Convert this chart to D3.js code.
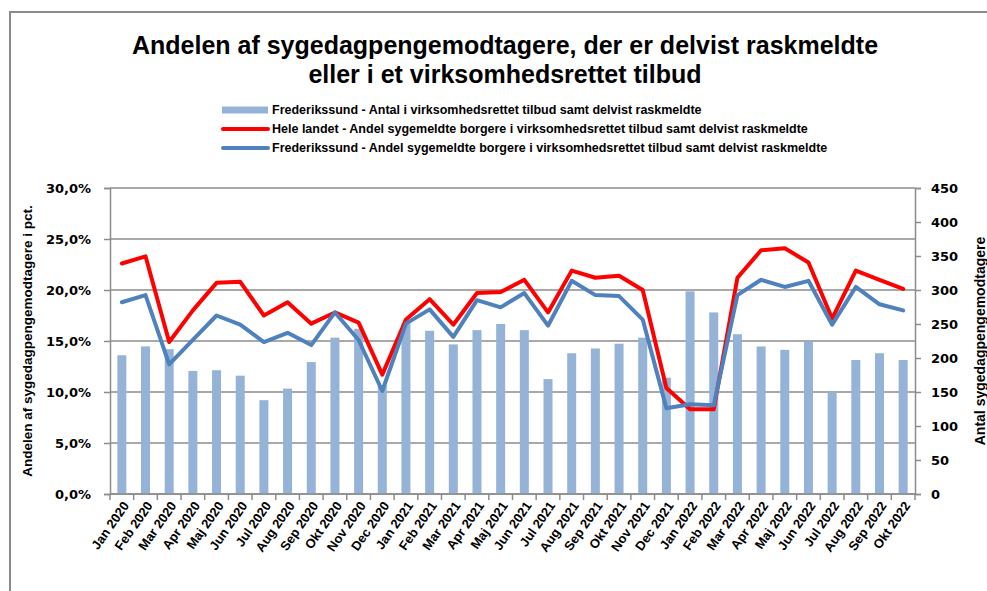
<!DOCTYPE html>
<html>
<head>
<meta charset="utf-8">
<script src="https://cdn.jsdelivr.net/npm/d3@7"></script>
<style>
	body { margin:0; background:#fff; }
	svg { display:block; }
</style>
</head>
<body>
<svg id="chart" width="987" height="591"></svg>
<script>
// months on the x axis
let months = [
	'Jan 2020','Feb 2020','Mar 2020','Apr 2020','Maj 2020','Jun 2020','Jul 2020','Aug 2020','Sep 2020','Okt 2020','Nov 2020','Dec 2020',
	'Jan 2021','Feb 2021','Mar 2021','Apr 2021','Maj 2021','Jun 2021','Jul 2021','Aug 2021','Sep 2021','Okt 2021','Nov 2021','Dec 2021',
	'Jan 2022','Feb 2022','Mar 2022','Apr 2022','Maj 2022','Jun 2022','Jul 2022','Aug 2022','Sep 2022','Okt 2022'
]

// Frederikssund - antal (right axis)
let antal = [
	204,217,213,181,182,174,138,155,194,230,243,160,
	251,240,220,241,250,241,169,207,214,221,230,171,
	298,267,235,217,212,224,151,197,207,197
]

// Hele landet - andel (left axis, pct)
let hele_landet = [
	22.6,23.3,14.9,18.0,20.7,20.8,17.5,18.8,16.7,17.8,16.8,11.7,
	17.1,19.1,16.6,19.7,19.8,21.0,17.8,21.9,21.2,21.4,20.0,10.4,
	8.3,8.3,21.2,23.9,24.1,22.7,17.2,21.9,21.0,20.1
]

// Frederikssund - andel (left axis, pct)
let fred_andel = [
	18.8,19.5,12.7,15.1,17.5,16.6,14.9,15.8,14.6,17.8,15.1,10.1,
	16.7,18.1,15.4,19.0,18.3,19.7,16.5,20.9,19.5,19.4,17.1,8.4,
	8.8,8.7,19.5,21.0,20.3,20.9,16.6,20.3,18.6,18.0
]

let left_ticks = [0,5,10,15,20,25,30]
let right_ticks = [0,50,100,150,200,250,300,350,400,450]

let legend_labels = [
	'Frederikssund -  Antal i virksomhedsrettet tilbud samt delvist raskmeldte',
	'Hele landet - Andel sygemeldte borgere i virksomhedsrettet tilbud samt delvist raskmeldte',
	'Frederikssund -  Andel sygemeldte borgere i virksomhedsrettet tilbud samt delvist raskmeldte'
]

const c_bar = '#95b3d7'
const c_red = '#ff0000'
const c_blue = '#4f81bd'
const c_grid = '#8c8c8c'

const plot = {left:110, right:915, top:188, bottom:494}

const svg = d3.select('#chart')

// outer frame (only top and left edge visible)
svg.append('path')
	.attr('d', 'M10,591 L10,12 L987,12')
	.attr('fill','none')
	.attr('stroke','#8a8a8a')
	.attr('stroke-width',2)

const x = d3.scaleBand()
	.domain(months)
	.range([plot.left, plot.right])
	.padding(0)

const yL = d3.scaleLinear().domain([0,30]).range([plot.bottom, plot.top])
const yR = d3.scaleLinear().domain([0,450]).range([plot.bottom, plot.top])

// title
const title = svg.append('text')
	.attr('text-anchor','middle')
	.attr('font-family','Liberation Sans, Arial, sans-serif')
	.attr('font-weight','bold')
	.attr('font-size',25)
	.attr('fill','#000')
title.append('tspan').attr('x',505).attr('y',54).text('Andelen af sygedagpengemodtagere, der er delvist raskmeldte')
title.append('tspan').attr('x',505).attr('y',83).text('eller i et virksomhedsrettet tilbud')

// legend
const legend = svg.selectAll('.legend')
	.data(legend_labels)
	.enter()
	.append('g')
	.classed('legend',true)
	.attr('transform',(d,i)=>`translate(222,${110 + i*19})`)

legend.each(function(d,i){
	const g = d3.select(this)
	if(i==0){
		g.append('rect').attr('x',0).attr('y',-3.5).attr('width',46).attr('height',7).attr('fill',c_bar)
	}else{
		g.append('line').attr('x1',1).attr('x2',46).attr('y1',0).attr('y2',0)
			.attr('stroke', i==1 ? c_red : c_blue).attr('stroke-width',4).attr('stroke-linecap','round')
	}
})
legend.append('text')
	.attr('x',50)
	.attr('y',0)
	.attr('dy','0.35em')
	.attr('font-family','Liberation Sans, Arial, sans-serif')
	.attr('font-weight','bold')
	.attr('font-size',12.5)
	.attr('fill','#000')
	.text(d=>d)

// gridlines
svg.append('g')
	.selectAll('line')
	.data(left_ticks)
	.enter()
	.append('line')
	.attr('x1',plot.left).attr('x2',plot.right)
	.attr('y1',d=>yL(d)).attr('y2',d=>yL(d))
	.attr('stroke',c_grid)
	.attr('stroke-width',1.5)

// bars
svg.append('g')
	.selectAll('rect')
	.data(antal)
	.enter()
	.append('rect')
	.attr('x',(d,i)=>x(months[i]) + x.bandwidth()/2 - 4.5)
	.attr('width',9)
	.attr('y',d=>yR(d))
	.attr('height',d=>plot.bottom - yR(d))
	.attr('fill',c_bar)

// lines
const line = d3.line()
	.x((d,i)=>x(months[i]) + x.bandwidth()/2)
	.y(d=>yL(d))

svg.append('path')
	.datum(hele_landet)
	.attr('d',line)
	.attr('fill','none')
	.attr('stroke',c_red)
	.attr('stroke-width',4)
	.attr('stroke-linejoin','round')
	.attr('stroke-linecap','round')

svg.append('path')
	.datum(fred_andel)
	.attr('d',line)
	.attr('fill','none')
	.attr('stroke',c_blue)
	.attr('stroke-width',4)
	.attr('stroke-linejoin','round')
	.attr('stroke-linecap','round')

// axes
const fmtPct = v => v.toFixed(1).replace('.',',') + '%'

const axL = svg.append('g')
	.attr('transform',`translate(${plot.left},0)`)
	.call(d3.axisLeft(yL).tickValues(left_ticks).tickFormat(fmtPct).tickSize(6).tickPadding(13))
const axR = svg.append('g')
	.attr('transform',`translate(${plot.right},0)`)
	.call(d3.axisRight(yR).tickValues(right_ticks).tickSize(6).tickPadding(10))

;[axL,axR].forEach(a=>{
	a.select('.domain').attr('stroke',c_grid).attr('stroke-width',1.5)
	a.selectAll('.tick line').attr('stroke',c_grid).attr('stroke-width',1.5)
	a.selectAll('.tick text')
		.attr('font-family','DejaVu Sans, Verdana, sans-serif')
		.attr('font-weight','bold')
		.attr('font-size',13)
		.attr('fill','#000')
})

// x axis
const axX = svg.append('g')
	.attr('transform',`translate(0,${plot.bottom})`)
axX.append('line')
	.attr('x1',plot.left).attr('x2',plot.right)
	.attr('stroke',c_grid).attr('stroke-width',1.5)
axX.selectAll('.xt')
	.data(months.concat(['end']))
	.enter()
	.append('line')
	.classed('xt',true)
	.attr('x1',(d,i)=> i < months.length ? x(d) : plot.right)
	.attr('x2',(d,i)=> i < months.length ? x(d) : plot.right)
	.attr('y1',0).attr('y2',6)
	.attr('stroke',c_grid).attr('stroke-width',1.5)
axX.selectAll('.xl')
	.data(months)
	.enter()
	.append('text')
	.classed('xl',true)
	.attr('transform',d=>`translate(${x(d) + x.bandwidth()/2 + 4},${9}) rotate(-55)`)
	.attr('text-anchor','end')
	.attr('dy','0.35em')
	.attr('font-family','Liberation Sans, Arial, sans-serif')
	.attr('font-weight','bold')
	.attr('font-size',13)
	.attr('fill','#000')
	.text(d=>d)

// axis titles
svg.append('text')
	.attr('transform','translate(27,341) rotate(-90)')
	.attr('text-anchor','middle')
	.attr('dy','0.35em')
	.attr('font-family','Liberation Sans, Arial, sans-serif')
	.attr('font-weight','bold')
	.attr('font-size',13.5)
	.attr('fill','#000')
	.text('Andelen af sygedagpengemodtagere i pct.')

svg.append('text')
	.attr('transform','translate(980,341) rotate(-90)')
	.attr('text-anchor','middle')
	.attr('dy','0.35em')
	.attr('font-family','Liberation Sans, Arial, sans-serif')
	.attr('font-weight','bold')
	.attr('font-size',14)
	.attr('fill','#000')
	.text('Antal sygedagpengemodtagere')
</script>
</body>
</html>
